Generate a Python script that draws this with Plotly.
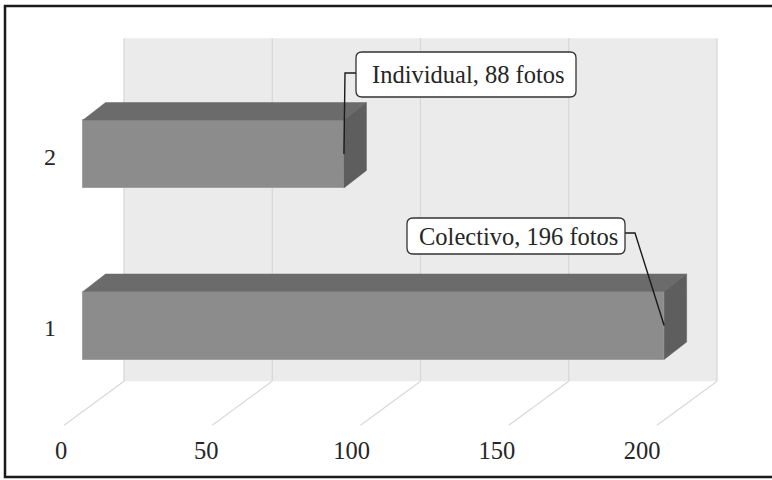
import plotly.graph_objects as go

# ---------------- data ----------------
categories = [1, 2]
category_ticktext = ["1", "2"]
series_names = ["Colectivo", "Individual"]
values = [196, 88]
x_ticks = [0, 50, 100, 150, 200]
callout_texts = ["Colectivo, 196 fotos", "Individual, 88 fotos"]

# ---------------- geometry / style ----------------
W, H = 772, 480
SX = 2.965      # px per value unit
SY = 171.5      # px per category unit
X0_PX = 83      # pixel of value 0 on bar front face
Y1_PX = 325.5   # pixel of category 1 centre on bar front face
DEPTH_RATIO = 44 / 60
FRONT_T, BACK_T = -19, 41          # floor depth (px in x) relative to bar front plane
BAR_DX, BAR_DY = 22.5, 17.5        # bar depth in px
BAR_H_PX = 68
CAT_MIN, CAT_MAX = 0.5, 2.5
FONT = "Liberation Serif"
TXT = "#262626"


def dx(px):
    return px / SX


def dy(px):
    return px / SY


def vx(px):
    return (px - X0_PX) / SX


def vy(px):
    return 1 + (Y1_PX - px) / SY


x_range = [vx(0), vx(W)]
y_range = [vy(H), vy(0)]

fig = go.Figure()
shapes = []

# back wall
wall_x0 = min(x_ticks) + dx(BACK_T)
wall_x1 = max(x_ticks) + dx(BACK_T)
wall_y0 = CAT_MIN + dy(BACK_T * DEPTH_RATIO)
wall_y1 = CAT_MAX + dy(BACK_T * DEPTH_RATIO)
shapes.append(dict(type="rect", xref="x", yref="y", x0=wall_x0, x1=wall_x1,
                   y0=wall_y0, y1=wall_y1, fillcolor="#ebebeb",
                   line=dict(width=0), layer="below"))
# wall gridlines + floor lines
for v in x_ticks:
    shapes.append(dict(type="line", xref="x", yref="y",
                       x0=v + dx(BACK_T), x1=v + dx(BACK_T),
                       y0=wall_y0, y1=wall_y1,
                       line=dict(color="#d6d6d6", width=1.2), layer="below"))
    shapes.append(dict(type="line", xref="x", yref="y",
                       x0=v + dx(FRONT_T), y0=CAT_MIN + dy(FRONT_T * DEPTH_RATIO),
                       x1=v + dx(BACK_T), y1=CAT_MIN + dy(BACK_T * DEPTH_RATIO),
                       line=dict(color="#d9d9d9", width=1.2), layer="below"))

# bar 3D faces
hw = dy(BAR_H_PX) / 2
bdx, bdy = dx(BAR_DX), dy(BAR_DY)
for c, v in zip(categories, values):
    # top face
    fig.add_trace(go.Scatter(
        x=[0, v, v + bdx, bdx, 0],
        y=[c + hw, c + hw, c + hw + bdy, c + hw + bdy, c + hw],
        mode="lines", fill="toself", fillcolor="#6b6b6b",
        line=dict(color="#6b6b6b", width=0.5), hoverinfo="skip", showlegend=False))
    # side face
    fig.add_trace(go.Scatter(
        x=[v, v, v + bdx, v + bdx, v],
        y=[c - hw, c + hw, c + hw + bdy, c - hw + bdy, c - hw],
        mode="lines", fill="toself", fillcolor="#5e5e5e",
        line=dict(color="#5e5e5e", width=0.5), hoverinfo="skip", showlegend=False))

# front faces
fig.add_trace(go.Bar(
    x=values, y=categories, orientation="h", width=2 * hw,
    marker=dict(color="#8c8c8c", line=dict(color="#a0a0a0", width=1)),
    text=series_names, textposition="none", hoverinfo="x+text", showlegend=False))

# callouts: (box px), elbow px, anchor data
callout_boxes = [(407, 218, 625, 254), (356, 52, 576, 97)]
callout_elbows = [[(625, 233), (635, 233)], [(356, 73), (345, 73)]]


def rounded(x0, y0, x1, y1, r=6):
    def p(px, py):
        return f"{vx(px)},{vy(py)}"
    return (f"M{p(x0 + r, y0)} L{p(x1 - r, y0)} Q{p(x1, y0)} {p(x1, y0 + r)} "
            f"L{p(x1, y1 - r)} Q{p(x1, y1)} {p(x1 - r, y1)} "
            f"L{p(x0 + r, y1)} Q{p(x0, y1)} {p(x0, y1 - r)} "
            f"L{p(x0, y0 + r)} Q{p(x0, y0)} {p(x0 + r, y0)} Z")


for c, v, text, box, elbow in zip(categories, values, callout_texts,
                                   callout_boxes, callout_elbows):
    fig.add_trace(go.Scatter(
        x=[vx(elbow[0][0]), vx(elbow[1][0]), v],
        y=[vy(elbow[0][1]), vy(elbow[1][1]), c],
        mode="lines", line=dict(color="#1a1a1a", width=1.4),
        hoverinfo="skip", showlegend=False))
    shapes.append(dict(type="path", xref="x", yref="y", path=rounded(*box),
                       fillcolor="white", line=dict(color="#333333", width=1.3),
                       layer="above"))
    fig.add_annotation(x=vx((box[0] + box[2]) / 2 + 2), y=vy((box[1] + box[3]) / 2),
                       xref="x", yref="y", text=text, showarrow=False,
                       font=dict(family=FONT, size=24.5, color=TXT))

# invisible helper traces for label axes
fig.add_trace(go.Scatter(x=x_ticks, y=[CAT_MIN] * len(x_ticks), xaxis="x2", yaxis="y",
                         mode="markers", marker=dict(opacity=0), hoverinfo="skip",
                         showlegend=False))
fig.add_trace(go.Scatter(x=[0] * len(categories), y=categories, xaxis="x", yaxis="y2",
                         mode="markers", marker=dict(opacity=0), hoverinfo="skip",
                         showlegend=False))

# frame (left, top, bottom edges; right edge lies outside the picture)
fx0, fx1 = 5 / W, 1.0
fy0, fy1 = 1 - 477 / H, 1 - 6 / H
frame_line = dict(color="#1a1a1a", width=2.5)
shapes.append(dict(type="path", xref="paper", yref="paper",
                   path=f"M{fx1},{fy1} L{fx0},{fy1} L{fx0},{fy0} L{fx1},{fy0}",
                   line=frame_line, layer="above"))

LBL_X0, LBL_SCALE = 61, 2.905
fig.update_layout(
    width=W, height=H, margin=dict(l=0, r=0, t=0, b=0),
    paper_bgcolor="white", plot_bgcolor="white",
    shapes=shapes, bargap=0,
    xaxis=dict(range=x_range, visible=False, fixedrange=True),
    yaxis=dict(range=y_range, visible=False, fixedrange=True),
    xaxis2=dict(range=[(0 - LBL_X0) / LBL_SCALE, (W - LBL_X0) / LBL_SCALE],
                overlaying="x", anchor="free", position=47 / H,
                tickvals=x_ticks, ticks="", showgrid=False, zeroline=False,
                showline=False, fixedrange=True,
                tickfont=dict(family=FONT, size=24.5, color=TXT)),
    yaxis2=dict(range=[y_range[0] + dy(2.5), y_range[1] + dy(2.5)],
                overlaying="y", anchor="free", position=56 / W, side="left",
                tickvals=categories, ticktext=category_ticktext, ticks="",
                showgrid=False, zeroline=False, showline=False, fixedrange=True,
                tickfont=dict(family=FONT, size=24, color=TXT)),
)

fig.write_html("out.html", config={"displayModeBar": False},
               post_script="document.body.style.margin='0';")
